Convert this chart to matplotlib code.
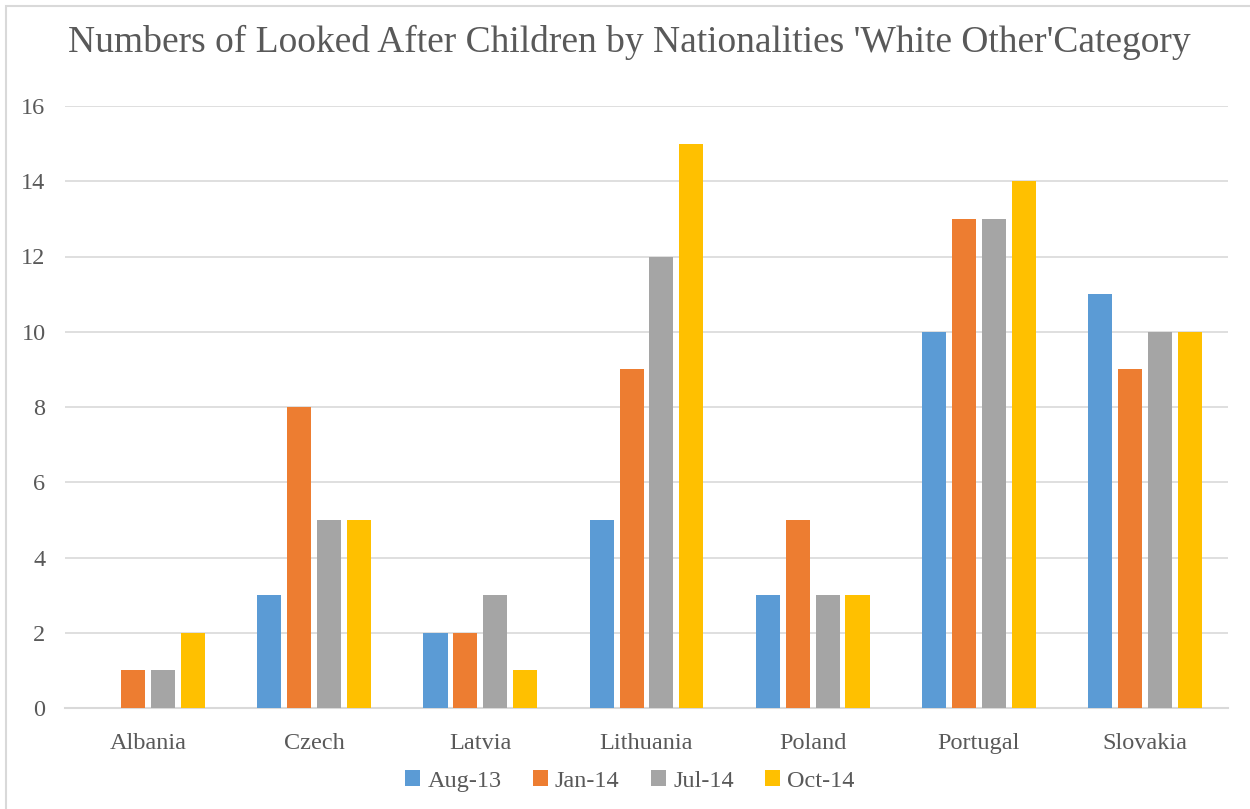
import matplotlib
matplotlib.use("Agg")
import matplotlib.pyplot as plt
import numpy as np
from matplotlib.patches import Rectangle

categories = ["Albania", "Czech", "Latvia", "Lithuania", "Poland", "Portugal", "Slovakia"]
series_names = ["Aug-13", "Jan-14", "Jul-14", "Oct-14"]
aug13 = [0, 3, 2, 5, 3, 10, 11]
jan14 = [1, 8, 2, 9, 5, 13, 9]
jul14 = [1, 5, 3, 12, 3, 13, 10]
oct14 = [2, 5, 1, 15, 3, 14, 10]
colors = ["#5B9BD5", "#ED7D31", "#A5A5A5", "#FFC000"]
yticks = [0, 2, 4, 6, 8, 10, 12, 14, 16]

plt.rcParams['font.family'] = ['Liberation Serif', 'DejaVu Serif']
W, H = 1250, 809
fig = plt.figure(figsize=(12.5, 8.09), dpi=100)
ax = fig.add_axes([65 / W, 1 - 708 / H, (1228 - 65) / W, (708 - 106) / H])

x = np.arange(len(categories))
width = 0.145
pitch = 0.18
for i, (vals, name, c) in enumerate(zip([aug13, jan14, jul14, oct14], series_names, colors)):
    ax.bar(x + (i - 1.5) * pitch, vals, width, color=c, label=name, zorder=3)

ax.set_xlim(-0.5, len(categories) - 0.5)
ax.set_ylim(0, 16)
ax.set_yticks(yticks)
ax.set_xticks(x)
ax.set_xticklabels(categories)
ax.yaxis.grid(True, color="#D9D9D9", linewidth=1.2, zorder=0)
for s in ["top", "right", "left"]:
    ax.spines[s].set_visible(False)
ax.spines["bottom"].set_color("#D9D9D9")
ax.spines["bottom"].set_linewidth(1.5)
ax.tick_params(axis="both", length=0, labelsize=17.5, labelcolor="#595959")
ax.tick_params(axis="x", pad=18)
ax.tick_params(axis="y", pad=14)

fig.text(629 / W, 1 - 42 / H, "Numbers of Looked After Children by Nationalities 'White Other'Category",
         ha="center", va="center", fontsize=27, color="#595959")

leg = fig.legend(loc="center", bbox_to_anchor=(630 / W, 1 - 781 / H), ncol=4, frameon=False,
                 fontsize=17.5, handlelength=0.6, handleheight=0.6, handletextpad=0.3,
                 columnspacing=1.3)
for t in leg.get_texts():
    t.set_color("#595959")

fig.patches.append(Rectangle((6 / W, -0.1), 1.2, 1.1 - 6 / H, transform=fig.transFigure,
                             fill=False, edgecolor="#D9D9D9", linewidth=1.5, clip_on=False))
fig.savefig("out.png", dpi=100)
